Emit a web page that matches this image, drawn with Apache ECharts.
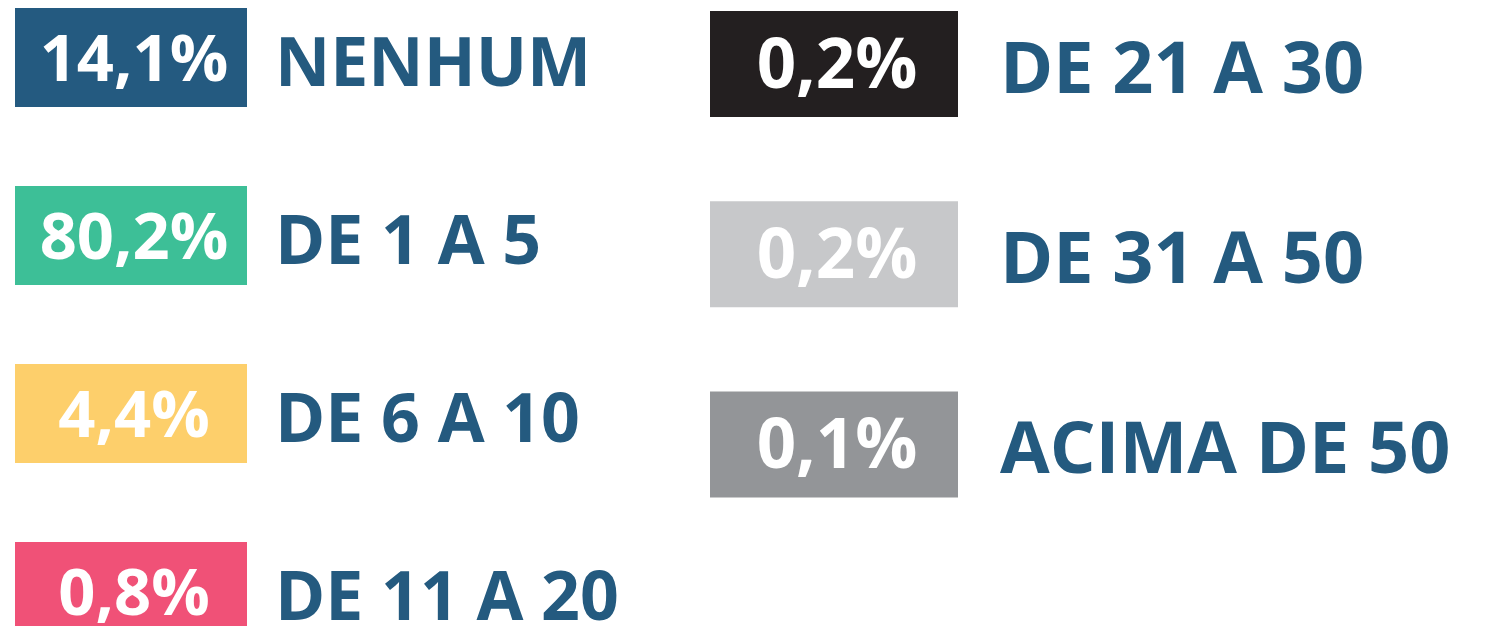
<!DOCTYPE html>
<html>
<head>
<meta charset="utf-8">
<script src="https://cdn.jsdelivr.net/npm/echarts@6/dist/echarts.min.js"></script>
<style>
  html, body { margin: 0; padding: 0; background: #fff; }
  #chart { width: 1490px; height: 626px; }
</style>
</head>
<body>
<div id="chart"></div>
<script>
// faixas (quantidade) e percentuais, coluna da esquerda e da direita
const labelsLeft = ['NENHUM', 'DE 1 A 5', 'DE 6 A 10', 'DE 11 A 20'];
const valuesLeft = [14.1, 80.2, 4.4, 0.8];
const labelsRight = ['DE 21 A 30', 'DE 31 A 50', 'ACIMA DE 50'];
const valuesRight = [0.2, 0.2, 0.1];

const colorsLeft = ['#245a80', '#3dbf97', '#fdcf6b', '#f05177'];
const colorsRight = ['#231f20', '#c7c8ca', '#939598'];
const labelColor = '#245a7f';
const FONT = '"Open Sans", "Liberation Sans", sans-serif';

const fmt = v => v.toFixed(1).replace('.', ',') + '%';

function makeRender(labels, colors, boxH, gap, numSize, labSize, numDy, labDy) {
    return function (params, api) {
        const idx = api.value(1);
        const p0 = api.coord([0, idx]);
        const p1 = api.coord([1, idx]);
        const w = p1[0] - p0[0];
        return {
            type: 'group',
            children: [
                {
                    type: 'rect',
                    shape: {x: p0[0], y: p0[1] - boxH / 2, width: w, height: boxH},
                    style: {fill: colors[idx]}
                },
                {
                    type: 'text',
                    style: {
                        text: fmt(api.value(2)),
                        x: p0[0] + w / 2 + 3,
                        y: p0[1] + numDy,
                        align: 'center',
                        verticalAlign: 'middle',
                        fill: '#fff',
                        font: 'bold ' + numSize + 'px ' + FONT
                    }
                },
                {
                    type: 'text',
                    style: {
                        text: labels[idx],
                        x: p1[0] + gap,
                        y: p0[1] + labDy,
                        align: 'left',
                        verticalAlign: 'middle',
                        fill: labelColor,
                        font: 'bold ' + labSize + 'px ' + FONT
                    }
                }
            ]
        };
    };
}

const chart = echarts.init(document.getElementById('chart'));

const option = {
    animation: false,
    grid: [
        {left: 15, top: 57.5, width: 232, height: 534},
        {left: 710, top: 64, width: 248, height: 380.5}
    ],
    xAxis: [
        {gridIndex: 0, type: 'value', min: 0, max: 1, show: false},
        {gridIndex: 1, type: 'value', min: 0, max: 1, show: false}
    ],
    yAxis: [
        {gridIndex: 0, type: 'category', data: labelsLeft, inverse: true, boundaryGap: false, show: false},
        {gridIndex: 1, type: 'category', data: labelsRight, inverse: true, boundaryGap: false, show: false}
    ],
    series: [
        {
            type: 'custom',
            xAxisIndex: 0,
            yAxisIndex: 0,
            renderItem: makeRender(labelsLeft, colorsLeft, 99, 28, 65, 68, 5, 9),
            data: valuesLeft.map((v, i) => [0, i, v]),
            clip: false
        },
        {
            type: 'custom',
            xAxisIndex: 1,
            yAxisIndex: 1,
            renderItem: makeRender(labelsRight, colorsRight, 106, 42, 69, 72, 4, 8),
            data: valuesRight.map((v, i) => [0, i, v]),
            clip: false
        }
    ]
};

chart.setOption(option);
</script>
</body>
</html>
